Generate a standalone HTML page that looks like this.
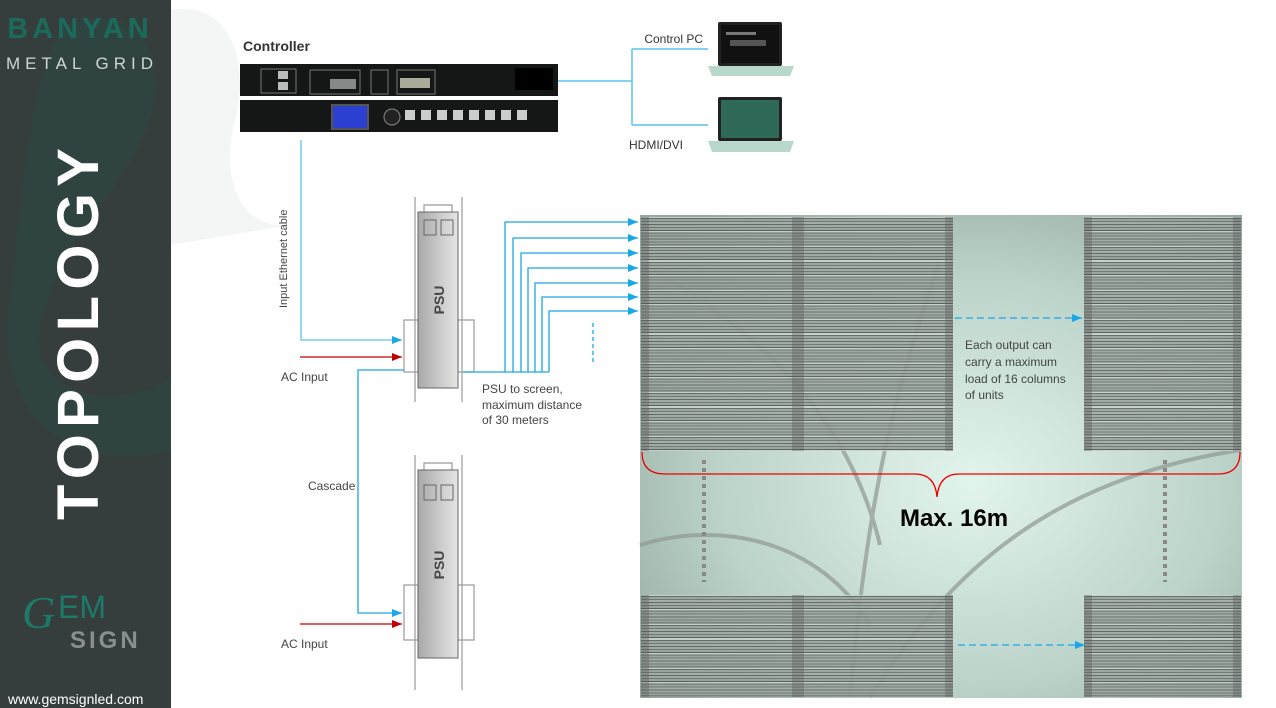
<!DOCTYPE html>
<html><head><meta charset="utf-8"><style>
html,body{margin:0;padding:0;width:1276px;height:708px;overflow:hidden;background:#fff;font-family:"Liberation Sans",sans-serif}
.panel{position:absolute;background:repeating-linear-gradient(180deg,#c9d1cc 0,#c9d1cc 1px,#5d6661 1px,#5d6661 2px,#9aa39e 2px,#9aa39e 4px,#6a736e 4px,#6a736e 5px,#a4aca7 5px,#a4aca7 7px,#5a635e 7px,#5a635e 8px,#a0a8a3 8px,#a0a8a3 10px,#6a736e 10px,#6a736e 11px,#9aa39e 11px,#9aa39e 13px,#4f5853 13px,#4f5853 14px,#c9d1cc 14px,#c9d1cc 14.6px);opacity:.9}
</style></head><body>
<svg width="1276" height="708" viewBox="0 0 1276 708" xmlns="http://www.w3.org/2000/svg" style="position:absolute;left:0;top:0">
<defs>
<radialGradient id="bg" cx="0.55" cy="0.55" r="0.7">
<stop offset="0" stop-color="#e2f5ec"/><stop offset="0.6" stop-color="#bcd3c9"/><stop offset="1" stop-color="#94a9a1"/></radialGradient>
</defs>
<!-- sidebar -->
<rect x="0" y="0" width="171" height="708" fill="#363e3d"/>
<path d="M60,30 C140,-10 170,60 150,120 C120,200 60,230 40,330 C30,380 90,420 171,380 L171,450 C60,480 -10,400 10,300 C20,200 30,80 60,30z" fill="#2c4a45" opacity=".6"/>
<path d="M171,10 C230,0 250,60 235,120 C220,180 240,230 290,225 L171,245z" fill="#f3f6f5"/>
<text x="80" y="38" text-anchor="middle" font-size="29" font-weight="bold" fill="#1b6b5c" letter-spacing="4">BANYAN</text>
<text x="82" y="69" text-anchor="middle" font-size="17" fill="#d0d4d3" letter-spacing="5">METAL GRID</text>
<text transform="translate(98,520) rotate(-90)" font-size="58" font-weight="900" fill="#fff" textLength="372" lengthAdjust="spacing">TOPOLOGY</text>
<text x="22" y="628" font-size="46" font-style="italic" fill="#1b7a68" font-family="Liberation Serif,serif">G</text>
<text x="58" y="618" font-size="32" fill="#1b7a68">EM</text>
<text x="70" y="648" font-size="24" font-weight="bold" fill="#8a8f8e" letter-spacing="3">SIGN</text>
<text x="8" y="704" font-size="14" fill="#fff">www.gemsignled.com</text>

<!-- controller -->
<text x="243" y="51" font-size="14" font-weight="bold" fill="#333">Controller</text>
<rect x="240" y="64" width="318" height="32" fill="#151616"/>
<rect x="240" y="100" width="318" height="32" fill="#151616"/>
<rect x="261" y="69" width="35" height="24" fill="none" stroke="#777"/>
<rect x="278" y="71" width="10" height="8" fill="#bbb"/><rect x="278" y="82" width="10" height="8" fill="#bbb"/>
<rect x="310" y="70" width="50" height="24" fill="none" stroke="#777"/><rect x="330" y="79" width="26" height="10" fill="#888"/>
<rect x="371" y="70" width="17" height="24" fill="none" stroke="#777"/><rect x="397" y="70" width="38" height="24" fill="none" stroke="#777"/>
<rect x="400" y="78" width="30" height="10" fill="#aa9"/>
<rect x="515" y="68" width="38" height="22" fill="#000"/>
<rect x="331" y="104" width="38" height="26" fill="#555"/><rect x="333" y="106" width="34" height="22" fill="#2b3fd0"/>
<circle cx="392" cy="117" r="8" fill="#222" stroke="#888"/>
<g fill="#ccc"><rect x="405" y="110" width="10" height="10"/><rect x="421" y="110" width="10" height="10"/><rect x="437" y="110" width="10" height="10"/><rect x="453" y="110" width="10" height="10"/><rect x="469" y="110" width="10" height="10"/><rect x="485" y="110" width="10" height="10"/><rect x="501" y="110" width="10" height="10"/><rect x="517" y="110" width="10" height="10"/></g>
<!-- PC links -->
<g stroke="#5bc4ef" stroke-width="1.5" fill="none">
<path d="M558,81 H632 M632,49 V125 M632,49 H708 M632,125 H708"/>
</g>
<text x="703" y="43" text-anchor="end" font-size="12" fill="#333">Control PC</text>
<text x="629" y="149" font-size="12" fill="#333">HDMI/DVI</text>
<rect x="718" y="22" width="64" height="44" rx="2" fill="#222"/><rect x="721" y="25" width="58" height="38" fill="#111"/>
<rect x="726" y="32" width="30" height="3" fill="#777"/><rect x="730" y="40" width="36" height="6" fill="#555"/>
<path d="M708,66 H794 L790,76 H712z" fill="#b8d8cc"/>
<rect x="718" y="97" width="64" height="44" rx="2" fill="#222"/><rect x="721" y="100" width="58" height="38" fill="#2f6a58"/>
<path d="M708,141 H794 L790,152 H712z" fill="#b8d8cc"/>

<!-- screen -->
<rect x="640" y="215" width="602" height="483" fill="url(#bg)"/>
<g fill="none" stroke="#8f9994" stroke-width="4" opacity=".7">
<path d="M645,265 C760,330 850,420 880,545"/>
<path d="M940,260 C900,380 870,470 850,697"/>
<path d="M1240,450 C1050,480 950,570 870,697"/>
<path d="M640,545 C720,520 820,540 870,625"/>
</g>
</svg>
<div class="panel" style="left:641px;top:217px;width:312px;height:234px"></div>
<div class="panel" style="left:1084px;top:217px;width:157px;height:234px"></div>
<div class="panel" style="left:641px;top:595px;width:312px;height:102px"></div>
<div class="panel" style="left:1084px;top:595px;width:157px;height:102px"></div>
<svg width="1276" height="708" style="position:absolute;left:0;top:0">
<defs>
<linearGradient id="psu2" x1="0" x2="1"><stop offset="0" stop-color="#a9a9a9"/><stop offset="1" stop-color="#e6e6e6"/></linearGradient>
<marker id="ab2" markerWidth="10" markerHeight="8" refX="10" refY="4" orient="auto" markerUnits="userSpaceOnUse"><path d="M0,0 L10,4 L0,8z" fill="#1aa7e6"/></marker>
<marker id="ar2" markerWidth="10" markerHeight="8" refX="10" refY="4" orient="auto" markerUnits="userSpaceOnUse"><path d="M0,0 L10,4 L0,8z" fill="#c00000"/></marker>
</defs>
<g fill="#555" opacity=".35"><rect x="792" y="217" width="12" height="234"/><rect x="792" y="595" width="12" height="102"/>
<rect x="641" y="217" width="8" height="234"/><rect x="945" y="217" width="8" height="234"/><rect x="1084" y="217" width="8" height="234"/><rect x="1233" y="217" width="8" height="234"/>
<rect x="641" y="595" width="8" height="102"/><rect x="945" y="595" width="8" height="102"/><rect x="1084" y="595" width="8" height="102"/><rect x="1233" y="595" width="8" height="102"/></g>
<!-- PSUs -->
<g stroke="#999" fill="none" stroke-width="1.2">
<path d="M415,197 V402 M462,197 V402 M424,212 V205 H452 V212"/>
<rect x="404" y="320" width="14" height="52"/><rect x="458" y="320" width="16" height="52"/>
<path d="M415,455 V690 M462,455 V690 M424,470 V463 H452 V470"/>
<rect x="404" y="585" width="14" height="55"/><rect x="458" y="585" width="16" height="55"/>
</g>
<rect x="418" y="212" width="40" height="176" fill="url(#psu2)" stroke="#666"/>
<rect x="418" y="470" width="40" height="188" fill="url(#psu2)" stroke="#666"/>
<g fill="none" stroke="#666"><rect x="424" y="220" width="12" height="15"/><rect x="441" y="220" width="12" height="15"/><rect x="424" y="485" width="12" height="15"/><rect x="441" y="485" width="12" height="15"/></g>
<text transform="translate(444,300) rotate(-90)" text-anchor="middle" font-size="14" font-weight="bold" fill="#444">PSU</text>
<text transform="translate(444,565) rotate(-90)" text-anchor="middle" font-size="14" font-weight="bold" fill="#444">PSU</text>
<!-- connectors -->
<g stroke="#1aa7e6" stroke-width="1.3" fill="none">
<path d="M301,140 V340 H402" stroke="#5bc4ef" marker-end="url(#ab2)"/>
<path d="M404,370 H358 V613 H402" marker-end="url(#ab2)"/>
<path d="M463,372 H549"/>
<path d="M505,372 V222 H638" marker-end="url(#ab2)"/>
<path d="M513,372 V238 H638" marker-end="url(#ab2)"/>
<path d="M521,372 V253 H638" marker-end="url(#ab2)"/>
<path d="M528,372 V268 H638" marker-end="url(#ab2)"/>
<path d="M535,372 V283 H638" marker-end="url(#ab2)"/>
<path d="M542,372 V297 H638" marker-end="url(#ab2)"/>
<path d="M549,372 V311 H638" marker-end="url(#ab2)"/>
<path d="M593,323 V365" stroke-dasharray="4,3"/>
<path d="M955,318 H1082" stroke-dasharray="7,4" marker-end="url(#ab2)"/>
<path d="M958,645 H1085" stroke-dasharray="7,4" marker-end="url(#ab2)"/>
</g>
<g stroke="#c00000" stroke-width="1.3"><path d="M300,357 H402" marker-end="url(#ar2)"/><path d="M300,624 H402" marker-end="url(#ar2)"/></g>
<g stroke="#888" stroke-width="4" stroke-dasharray="4,4"><path d="M704,460 V582"/><path d="M1165,460 V582"/></g>
<path d="M642,452 Q642,474 665,474 H915 Q935,474 937,497 Q939,474 959,474 H1218 Q1240,474 1240,452" fill="none" stroke="#e00" stroke-width="1.3"/>
<text x="954" y="526" text-anchor="middle" font-size="24" font-weight="bold" fill="#000">Max. 16m</text>
<g font-size="12" fill="#444">
<text x="965" y="349">Each output can</text><text x="965" y="366">carry a maximum</text><text x="965" y="383">load of 16 columns</text><text x="965" y="399">of units</text>
<text x="482" y="393">PSU to screen,</text><text x="482" y="409">maximum distance</text><text x="482" y="424">of 30 meters</text>
<text x="281" y="381">AC Input</text><text x="281" y="648">AC Input</text>
<text x="308" y="490">Cascade</text>
</g>
<text transform="translate(287,308) rotate(-90)" font-size="11" fill="#444">Input Ethernet cable</text>
</svg>
</body></html>
